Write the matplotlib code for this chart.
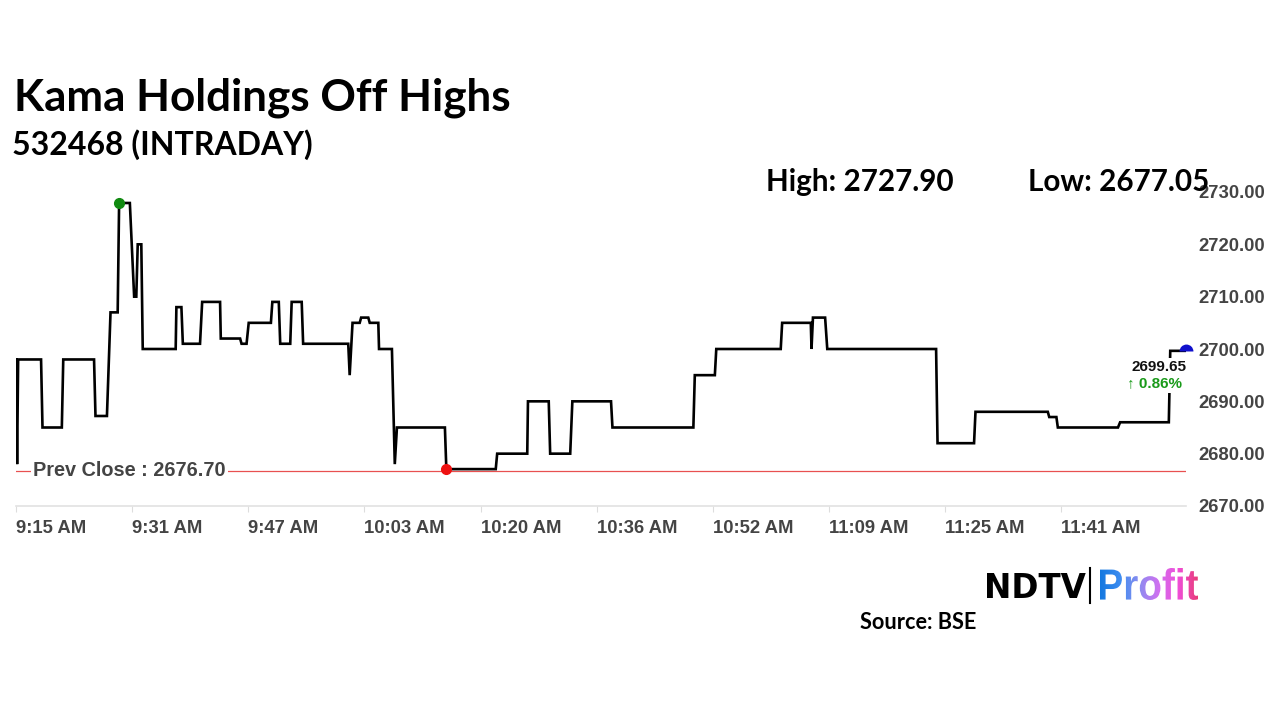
import numpy as np
import matplotlib
matplotlib.use("Agg")
import matplotlib.pyplot as plt
from matplotlib.textpath import TextPath
from matplotlib.patches import PathPatch
from matplotlib.font_manager import FontProperties
from matplotlib.colors import LinearSegmentedColormap

# minutes after 9:15 AM and traded price (vertices of the intraday line)
minutes = [0, 0.15, 0.3, 3.5, 3.7, 6.4, 6.6, 10.9, 11.1, 12.7, 13.2, 14.2, 14.4, 15.9,
           16.5, 16.8, 17.0, 17.5, 17.7, 22.3, 22.4, 23.1, 23.3, 25.7, 26.0, 28.5, 28.6,
           31.3, 31.5, 32.2, 32.5, 35.6, 35.8, 36.7, 36.9, 38.3, 38.5, 39.9, 40.1, 46.4,
           46.6, 47.0, 48.0, 48.2, 49.2, 49.4, 50.6, 50.7, 52.5, 52.9, 53.2, 59.9, 60.1,
           67.0, 67.2, 71.4, 71.5, 74.4, 74.6, 77.4, 77.7, 83.1, 83.3, 94.6, 94.8, 97.6,
           97.8, 106.8, 107.0, 111.0, 111.1, 111.3, 113.0, 113.3, 128.5, 128.7, 133.8,
           134.0, 144.1, 144.3, 145.3, 145.5, 153.9, 154.2, 161.0, 161.2, 163.4]
prices = [2698, 2678, 2698, 2698, 2685, 2685, 2698, 2698, 2687.2, 2687.2, 2707, 2707,
          2727.9, 2727.9, 2710, 2710, 2720, 2720, 2700, 2700, 2708, 2708, 2701, 2701,
          2709, 2709, 2702, 2702, 2701, 2701, 2705, 2705, 2709, 2709, 2701, 2701, 2709,
          2709, 2701, 2701, 2695, 2705, 2705, 2706, 2706, 2705, 2705, 2700, 2700, 2678,
          2685, 2685, 2677.05, 2677.05, 2680, 2680, 2690, 2690, 2680, 2680, 2690, 2690,
          2685, 2685, 2695, 2695, 2700, 2700, 2705, 2705, 2700, 2706, 2706, 2700, 2700,
          2682, 2682, 2688, 2688, 2687, 2687, 2685, 2685, 2686, 2686, 2699.65, 2699.65]

prev_close = 2676.70
day_high = 2727.90
day_low = 2677.05
last_price = 2699.65
change_pct = 0.86

tick_labels = ["9:15 AM", "9:31 AM", "9:47 AM", "10:03 AM", "10:20 AM", "10:36 AM",
               "10:52 AM", "11:09 AM", "11:25 AM", "11:41 AM"]
y_ticks = [2670, 2680, 2690, 2700, 2710, 2720, 2730]

W, H = 1280, 720
fig = plt.figure(figsize=(12.8, 7.2), dpi=100)
fig.patch.set_facecolor("white")

title_font = ["Lato", "DejaVu Sans"]
axis_font = ["Liberation Sans", "DejaVu Sans"]

# headline text
fig.text(14 / W, 1 - 110 / H, "Kama Holdings Off Highs", fontsize=31.7, fontweight="bold",
         family=title_font, va="baseline", ha="left")
fig.text(12 / W, 1 - 155 / H, "532468 (INTRADAY)", fontsize=23, fontweight="bold",
         family=title_font, va="baseline", ha="left")
fig.text(766 / W, 1 - 191 / H, f"High: {day_high:.2f}", fontsize=21.3, fontweight="bold",
         family=title_font, va="baseline", ha="left")
fig.text(1028 / W, 1 - 191 / H, f"Low: {day_low:.2f}", fontsize=21.3, fontweight="bold",
         family=title_font, va="baseline", ha="left", zorder=1)
fig.text(860 / W, 1 - 629 / H, "Source: BSE", fontsize=15.6, fontweight="bold",
         family=title_font, va="baseline", ha="left")

# main chart
ax = fig.add_axes([16 / W, 1 - 506 / H, (1186 - 16) / W, (506 - 192) / H])
ax.set_facecolor("none")
x_end = minutes[-1]
ax.set_xlim(0, x_end)
ax.set_ylim(2670, 2730)

ax.plot(minutes, prices, color="black", lw=1.9, solid_joinstyle="miter", zorder=3)

ax.axhline(prev_close, color="#e85050", lw=0.9, zorder=1)
ax.text(2.4, prev_close, f"Prev Close : {prev_close:.2f}", fontsize=14.3, fontweight="bold",
        family=axis_font, color="#444444", ha="left", va="center", zorder=2,
        bbox=dict(facecolor="white", edgecolor="none", pad=1.5))

hi_idx = prices.index(day_high)
lo_idx = prices.index(day_low)
ax.plot(minutes[hi_idx], day_high, "o", color="#108a10", ms=7, zorder=4)
ax.plot(minutes[lo_idx], day_low, "o", color="#ee1111", ms=7, zorder=4)
ax.plot(x_end, last_price, "o", color="#1010cc", ms=10, mew=0, fillstyle="top",
        zorder=4, clip_on=False)

ax.annotate(f"{last_price:.2f}", xy=(x_end, last_price), xytext=(0, -12),
            textcoords="offset points", ha="right", va="center", fontsize=11,
            fontweight="bold", family=axis_font, color="#111111", zorder=5,
            bbox=dict(facecolor="white", edgecolor="none", pad=1.5))
ax.annotate(f"\u2191 {change_pct:.2f}%", xy=(x_end, last_price), xytext=(-3, -23.5),
            textcoords="offset points", ha="right", va="center", fontsize=11,
            fontweight="bold", family=axis_font, color="#1a9a1a", zorder=5,
            bbox=dict(facecolor="white", edgecolor="none", pad=1.5))

ax.set_xticks(np.linspace(0, 146, len(tick_labels)))
ax.set_xticklabels(tick_labels, ha="left")
ax.set_yticks(y_ticks)
ax.set_yticklabels([f"{v:.2f}" for v in y_ticks])
ax.yaxis.tick_right()
for lab in ax.get_xticklabels() + ax.get_yticklabels():
    lab.set_fontsize(13.3)
    lab.set_fontweight("bold")
    lab.set_family(axis_font)
    lab.set_color("#444444")
ax.tick_params(axis="x", length=4, color="#dddddd", pad=6)
ax.tick_params(axis="y", length=0, pad=9)
for side in ["top", "left", "right"]:
    ax.spines[side].set_visible(False)
ax.spines["bottom"].set_color("#e2e2e2")
ax.spines["bottom"].set_linewidth(1.2)

# NDTV | Profit logo
fig.text(984 / W, 1 - 598 / H, "NDTV", fontsize=23.5, fontweight="heavy",
         family=["DejaVu Sans"], va="baseline", ha="left", color="black")
fig.add_artist(plt.Line2D([1090 / W, 1090 / W], [1 - 568 / H, 1 - 603 / H],
                          color="black", lw=1.5))
fp = FontProperties(family="Liberation Sans", weight="bold")
tp = TextPath((0, 0), "Profit", size=1, prop=fp)
ext = tp.get_extents()
lax = fig.add_axes([1100 / W, 1 - 600 / H, 98 / W, 32 / H])
lax.set_xlim(ext.x0, ext.x1)
lax.set_ylim(ext.y0, ext.y1)
lax.axis("off")
grad_cmap = LinearSegmentedColormap.from_list(
    "profit", ["#1478e0", "#3b8cf0", "#8c8cf0", "#d070f0", "#f04ed8", "#e83c78"])
grad = np.linspace(0, 1, 256)[None, :]
im = lax.imshow(grad, cmap=grad_cmap, aspect="auto",
                extent=[ext.x0, ext.x1, ext.y0, ext.y1])
patch = PathPatch(tp, transform=lax.transData, facecolor="none", edgecolor="none")
lax.add_patch(patch)
im.set_clip_path(patch)

fig.savefig("out.png", dpi=100, facecolor="white")
